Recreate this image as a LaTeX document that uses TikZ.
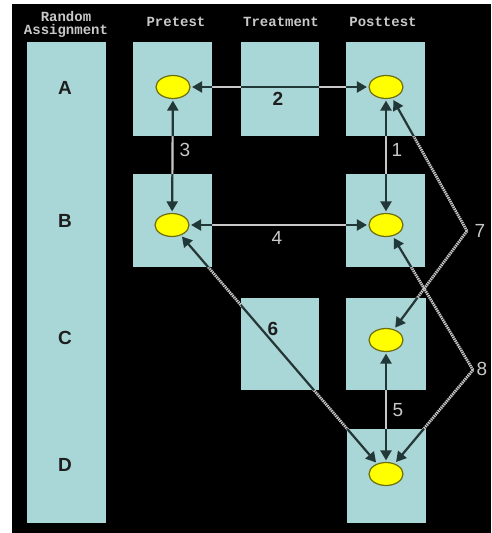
\documentclass[tikz,border=0pt]{standalone}
\usepackage{fontspec}
\setmainfont{Liberation Sans}
\newfontfamily\headfont{Liberation Mono}
\usetikzlibrary{arrows.meta,shapes.geometric}
\pgfdeclarelayer{backdrop}
\pgfdeclarelayer{links}
\pgfsetlayers{backdrop,links,main}
\definecolor{panel}{HTML}{A9D6D6}
\definecolor{dot}{HTML}{FFFF00}
\definecolor{dotrim}{HTML}{6E6E10}
\definecolor{linklite}{HTML}{C8C8C8}
\definecolor{linkdark}{HTML}{203838}
\definecolor{ink}{HTML}{1E1E1E}
% every connector; #1 = style of straight ones, #2 = style of slanted ones
\newcommand\linkpaths[2]{%
  \draw[twohead,#1] (a1) -- (a3);
  \draw[twohead,#1] (a1) -- (b1);
  \draw[twohead,#1] (a3) -- (b3);
  \draw[twohead,#1] (b1) -- (b3);
  \draw[twohead,#1] (c3) -- (d3);
  \draw[twohead,#2] (b1) -- (d3);
  \draw[onehead,#2] (v7) -- (a3);
  \draw[onehead,#2] (v7) -- (c3);
  \draw[onehead,#2] (v8) -- (b3);
  \draw[onehead,#2] (v8) -- (d3);
}
\begin{document}
\begin{tikzpicture}[x=1pt,y=-1pt,
  panelbox/.style={fill=panel,inner sep=0pt,outer sep=0pt,minimum width=79pt,minimum height=94pt},
  dotnode/.style={ellipse,fill=dot,draw=dotrim,line width=1.2pt,minimum width=34pt,minimum height=23pt,inner sep=0pt},
  twohead/.style={line width=2.2pt,{Triangle[length=10pt,width=11pt]}-{Triangle[length=10pt,width=11pt]},shorten <=1.5pt,shorten >=1.5pt},
  onehead/.style={line width=2.2pt,-{Triangle[length=10pt,width=11pt]},shorten >=2pt},
  lite/.style={draw=linklite},
  litediag/.style={draw=linklite,line width=2.8pt,dash pattern=on 1.4pt off 0.8pt},
  dark/.style={draw=linkdark,fill=linkdark},
  rowletter/.style={font=\fontsize{19}{19}\selectfont\bfseries,text=ink},
  header/.style={font=\headfont\bfseries\fontsize{14}{13}\selectfont,align=center,text=linklite,inner sep=0pt},
  boxnum/.style={font=\fontsize{19}{19}\selectfont\bfseries,text=ink},
  gapnum/.style={font=\fontsize{19}{19}\selectfont,text=linklite}]
\useasboundingbox (0,0) rectangle (491,533);

% ground and panels
\begin{pgfonlayer}{backdrop}
\fill[white] (0,0) rectangle (491,533);
\fill[black] (12,4) rectangle (491,533);
\node[panelbox,minimum height=481pt] (ra) at (66.5,282.5) {};
\node[panelbox] (preA) at (172.5,89) {};
\node[panelbox,minimum width=78pt] (trA) at (280,89) {};
\node[panelbox] (postA) at (385.5,89) {};
\node[panelbox,minimum height=93pt] (preB) at (172.5,220.5) {};
\node[panelbox,minimum height=93pt] (postB) at (385.5,220.5) {};
\node[panelbox,minimum width=78pt,minimum height=92pt] (trC) at (280,344) {};
\node[panelbox,minimum width=80pt,minimum height=92pt] (postC) at (386,344) {};
\node[panelbox] (postD) at (386.5,476) {};
\end{pgfonlayer}

% headers
\node[header] (hra) at (66,24) {Random\\Assignment};
\node[header] (hpre) at (176,22) {Pretest};
\node[header] (htr) at (281,22) {Treatment};
\node[header] (hpost) at (383,22) {Posttest};

% row letters
\node[rowletter] (la) at (65,88) {A};
\node[rowletter] (lb) at (65,221) {B};
\node[rowletter] (lc) at (65,338) {C};
\node[rowletter] (ld) at (65,465) {D};

% observations
\node[dotnode] (a1) at (173,87) {};
\node[dotnode] (a3) at (386,87) {};
\node[dotnode] (b1) at (172,225) {};
\node[dotnode] (b3) at (386,225) {};
\node[dotnode] (c3) at (386,340) {};
\node[dotnode] (d3) at (386,474) {};
\coordinate (v7) at (467,231);
\coordinate (v8) at (473,370);

% connectors: light over the black ground, dark across the panels
\begin{pgfonlayer}{links}
\linkpaths{lite}{litediag}
\begin{scope}
  \clip (preA.south west) rectangle (preA.north east)
        (trA.south west) rectangle (trA.north east)
        (postA.south west) rectangle (postA.north east)
        (preB.south west) rectangle (preB.north east)
        (postB.south west) rectangle (postB.north east)
        (trC.south west) rectangle (trC.north east)
        (postC.south west) rectangle (postC.north east)
        (postD.south west) rectangle (postD.north east);
  \linkpaths{dark}{dark}
\end{scope}
\end{pgfonlayer}

% connector numbers
\node[boxnum] (n2) at (278,99) {2};
\node[boxnum] (n6) at (273,329) {6};
\node[gapnum] (n1) at (397,150) {1};
\node[gapnum] (n3) at (185,150) {3};
\node[gapnum] (n4) at (277,238) {4};
\node[gapnum] (n5) at (398,410) {5};
\node[gapnum] (n7) at (480,231) {7};
\node[gapnum] (n8) at (482,369) {8};
\end{tikzpicture}
\end{document}
